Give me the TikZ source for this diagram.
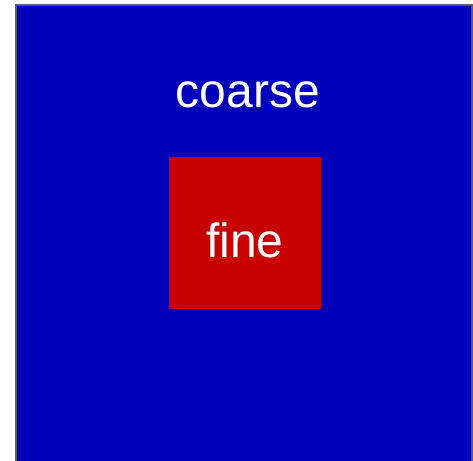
\documentclass[tikz,border=0pt]{standalone}
\usepackage{fontspec}
\setmainfont{Liberation Sans}
\definecolor{coarseblue}{RGB}{0,0,187}
\definecolor{finered}{RGB}{200,0,0}
\definecolor{edgegray}{RGB}{90,90,110}
\begin{document}
\begin{tikzpicture}[x=1pt,y=-1pt,
  lbl/.style={text=white,anchor=base,inner sep=0pt,font=\fontsize{48}{48}\selectfont}]
\useasboundingbox (0,0) rectangle (473,460);
\clip (0,0) rectangle (473,460);
\path[fill=coarseblue,draw=edgegray,line width=2pt] (16,5) rectangle (471.5,470);
\path[fill=finered] (168.5,157) rectangle (320.5,309);
\node[lbl] (coarse) at (247.8,107) {coarse};
\node[lbl] (fine) at (245,257.5) {fine};
\end{tikzpicture}
\end{document}
